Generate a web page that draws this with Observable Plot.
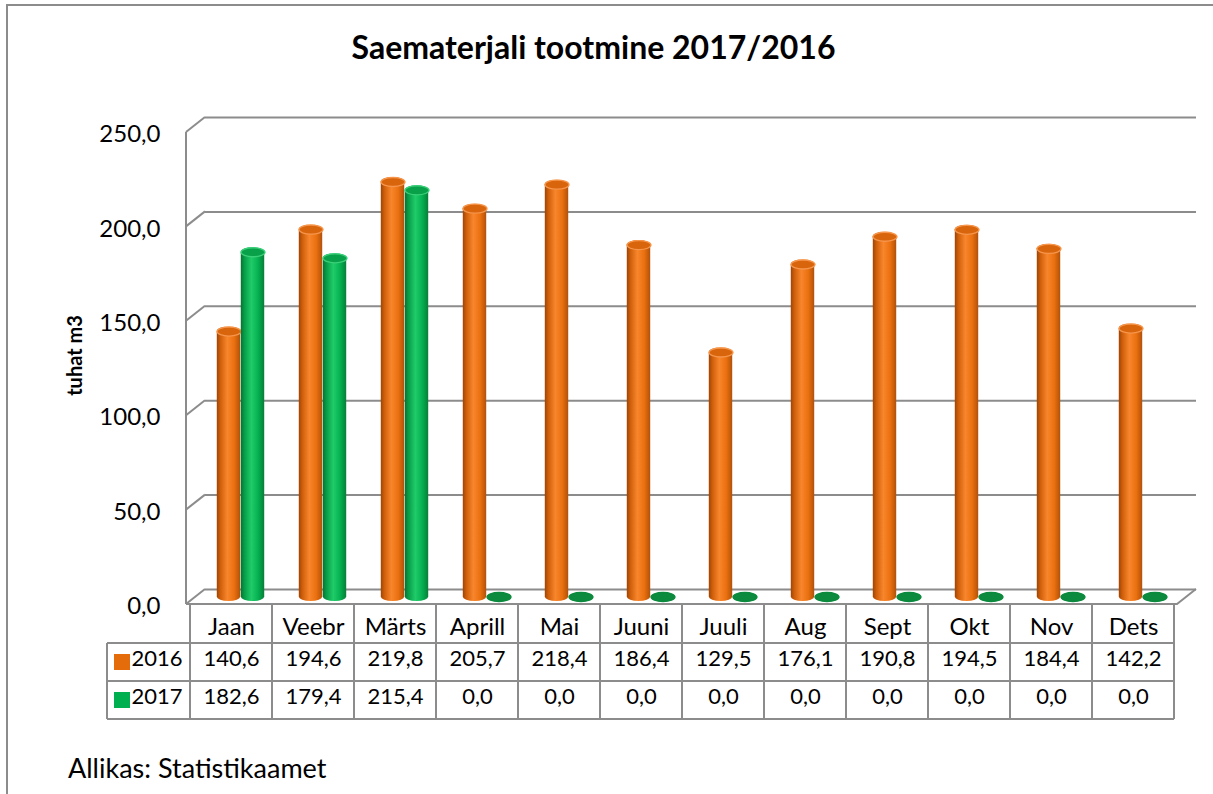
<!DOCTYPE html>
<html><head><meta charset="utf-8">
<script src="https://cdn.jsdelivr.net/npm/d3@7"></script>
<script src="https://cdn.jsdelivr.net/npm/@observablehq/plot@0.6"></script>
<style>
body{margin:0;background:#fff;font-family:Lato,sans-serif;color:#000;overflow:hidden;}
#wrap{position:relative;width:1213px;height:794px;overflow:hidden;}
#border{position:absolute;left:6px;top:4px;width:1300px;height:900px;border-left:2px solid #8c8c8c;border-top:2px solid #8c8c8c;}
#title{position:relative;height:90px;box-sizing:border-box;padding-top:27px;padding-right:26px;line-height:40px;text-align:center;font-weight:700;font-size:32px;}
#chart{position:relative;height:640px;}
#chart svg{display:block;}
#source{position:relative;padding-left:68px;padding-top:23px;line-height:30px;font-size:27px;}
</style></head><body>
<div id="wrap"><div id="border"></div>
<div id="title">Saematerjali tootmine 2017/2016</div>
<div id="chart"></div>
<div id="source">Allikas: Statistikaamet</div>
</div>
<script>
const months = ["Jaan","Veebr","Märts","Aprill","Mai","Juuni","Juuli","Aug","Sept","Okt","Nov","Dets"];
const series = ["2016","2017"];
const values2016 = [140.6,194.6,219.8,205.7,218.4,186.4,129.5,176.1,190.8,194.5,184.4,142.2];
const values2017 = [182.6,179.4,215.4,0,0,0,0,0,0,0,0,0];
const yTicks = [0,50,100,150,200,250];
const yLabel = "tuhat m3";

const fmt = v => d3.format(".1f")(v).replace(".", ",");
const rows2016 = months.map((m, i) => ({month: m, value: values2016[i]}));
const rows2017 = months.map((m, i) => ({month: m, value: values2017[i]}));
const seriesRows = [rows2016, rows2017];

const GRID = "#8c8c8c";
const DX = -19, DY = 15;        // front plane offset
const MX = -9.5, MY = 7.5;      // mid-depth offset (bars)
const BW = 24;                  // cylinder width
const RY = 4.5;                 // ellipse vertical radius
const ROWH = 38;
const COLORS = {"2016": "#e46c0a", "2017": "#00b050"};
const FS = 24, FSN = 22;
const ROW_DY = [DY + 23, DY + 54, DY + 92]; // text centre offsets of the table rows

function ellipse(rx, ry) {
  const k = 0.5523;
  return {draw(ctx) {
    ctx.moveTo(rx, 0);
    ctx.bezierCurveTo(rx, ry * k, rx * k, ry, 0, ry);
    ctx.bezierCurveTo(-rx * k, ry, -rx, ry * k, -rx, 0);
    ctx.bezierCurveTo(-rx, -ry * k, -rx * k, -ry, 0, -ry);
    ctx.bezierCurveTo(rx * k, -ry, rx, -ry * k, rx, 0);
    ctx.closePath();
  }};
}

function defs() {
  const d = d3.create("svg:defs");
  const mk = (id, stops) => {
    const g = d.append("linearGradient").attr("id", id).attr("x1", 0).attr("x2", 1).attr("y1", 0).attr("y2", 0);
    stops.forEach(([o, c]) => g.append("stop").attr("offset", o).attr("stop-color", c));
  };
  mk("gOr", [[0, "#9c4405"], [0.15, "#cf5e0a"], [0.45, "#f8862c"], [0.75, "#ea700f"], [1, "#b0510a"]]);
  mk("gGr", [[0, "#06722f"], [0.15, "#079c48"], [0.45, "#1fcc68"], [0.75, "#04b050"], [1, "#087e38"]]);
  return d.node();
}

function frame3d(index, {y}, values, {width, marginLeft, marginRight}) {
  const g = d3.create("svg:g").attr("stroke", GRID).attr("stroke-width", 2).attr("fill", "none");
  const x0 = marginLeft, x1 = width - marginRight, yb0 = y(0);
  g.append("line").attr("x1", x0 + DX).attr("x2", x0 + DX).attr("y1", y(d3.max(yTicks)) + DY).attr("y2", yb0 + DY);
  for (const t of yTicks) {
    g.append("line").attr("x1", x0 + DX).attr("y1", y(t) + DY).attr("x2", x0).attr("y2", y(t));
  }
  g.append("polyline").attr("points", [[x0 + DX, yb0 + DY], [x1 + DX, yb0 + DY], [x1, yb0]].map(p => p.join(",")).join(" "));
  return g.node();
}

function tableGrid(index, {x, y}) {
  const g = d3.create("svg:g");
  const lines = g.append("g").attr("stroke", GRID).attr("stroke-width", 2).attr("fill", "none");
  const top = y(0) + DY, r1 = top + ROWH + 1, r2 = r1 + ROWH, r3 = r2 + ROWH;
  const bw = x.bandwidth();
  const xs = months.map(m => x(m) + DX);
  xs.push(x(months[months.length - 1]) + bw + DX);
  const headL = xs[0] - 83;
  for (const xv of xs) lines.append("line").attr("x1", xv).attr("x2", xv).attr("y1", top).attr("y2", r3);
  lines.append("line").attr("x1", headL).attr("x2", headL).attr("y1", r1).attr("y2", r3);
  for (const yv of [r1, r2, r3]) lines.append("line").attr("x1", headL).attr("x2", xs[xs.length - 1]).attr("y1", yv).attr("y2", yv);
  series.forEach((s, i) => {
    const cy = r1 + ROWH * i + ROWH / 2;
    g.append("rect").attr("x", headL + 7).attr("y", cy - 8).attr("width", 16).attr("height", 16).attr("fill", COLORS[s]);
  });
  return g.node();
}

const half = 41.29;
const tableText = {frameAnchor: "bottom", lineAnchor: "middle", dx: DX};
const chart = Plot.plot({
  width: 1213, height: 640,
  marginLeft: 205, marginRight: 17, marginTop: 27, marginBottom: 141,
  x: {type: "band", domain: months, padding: 0, axis: null},
  y: {domain: [0, 250], axis: null},
  style: {fontFamily: "Lato", fontSize: "24px", color: "#000", background: "transparent", overflow: "visible"},
  marks: [
    defs,
    Plot.ruleY(yTicks, {stroke: GRID, strokeWidth: 2}),
    frame3d,
    Plot.axisY(yTicks, {tickSize: 0, tickPadding: 45, dy: DY + 2, tickFormat: fmt, label: null, fontSize: FS}),
    Plot.text([yLabel], {frameAnchor: "left", dx: -130, dy: 2, rotate: -90, textAnchor: "middle", fontWeight: "bold", fontSize: 20}),
    // 2016 cylinders
    Plot.barY(rows2016, {x: "month", y: "value", fill: "url(#gOr)", insetLeft: half - BW, insetRight: half,
      insetTop: -RY, insetBottom: -RY, rx: BW / 2, ry: RY, dx: MX, dy: MY}),
    Plot.dot(rows2016, {x: "month", y: "value", symbol: ellipse(BW / 2, RY), fill: "#d8640b", stroke: "#f6964c", strokeWidth: 1.3,
      dx: MX - BW / 2, dy: MY}),
    // 2017 cylinders
    Plot.barY(rows2017.filter(d => d.value > 0), {x: "month", y: "value", fill: "url(#gGr)", insetLeft: half, insetRight: half - BW,
      insetTop: -RY, insetBottom: -RY, rx: BW / 2, ry: RY, dx: MX, dy: MY}),
    Plot.dot(rows2017, {x: "month", y: "value",
      symbol: ellipse(BW / 2, RY),
      fill: d => d.value === 0 ? "#0c8a3e" : "#08a048", stroke: d => d.value === 0 ? "#0c8a3e" : "#3ccf7a", strokeWidth: 1.3,
      dx: MX + BW / 2, dy: MY}),
    // data table
    tableGrid,
    Plot.text(months, {...tableText, x: d => d, dy: ROW_DY[0], fontSize: FS}),
    ...seriesRows.map((rows, i) =>
      Plot.text(rows, {...tableText, x: "month", text: d => fmt(d.value), dy: ROW_DY[i + 1], fontSize: FSN})),
    ...series.map((s, i) =>
      Plot.text([s], {frameAnchor: "bottom-left", lineAnchor: "middle", textAnchor: "start", fontSize: FSN,
        dx: DX - 83 + 28, dy: ROW_DY[i + 1]}))
  ]
});
document.getElementById("chart").appendChild(chart);
</script>
</body></html>
